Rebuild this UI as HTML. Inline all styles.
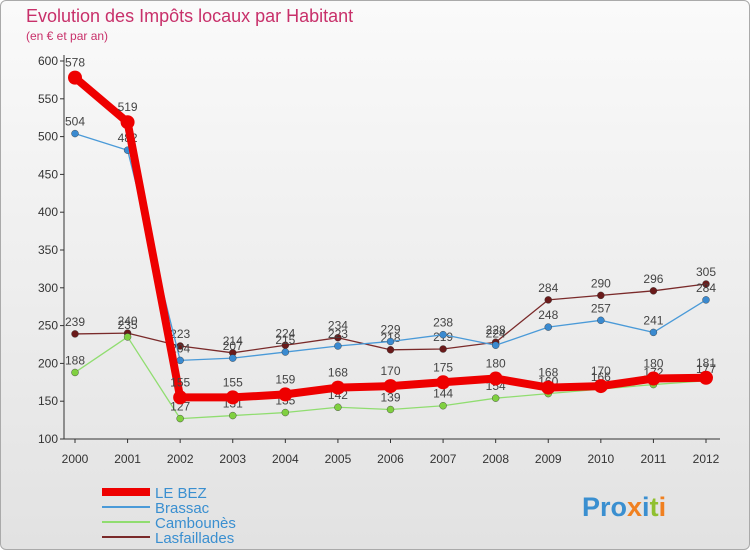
<!DOCTYPE html>
<html><head><meta charset="utf-8"><style>
body{margin:0;width:750px;height:550px;overflow:hidden;font-family:"Liberation Sans","DejaVu Sans",sans-serif}
#c{position:absolute;left:0;top:0;width:748px;height:548px;border:1px solid #aaa;border-radius:6px;background:linear-gradient(#fafafa,#e2e2e2)}
</style></head><body>
<div id="c"></div>
<svg id="s" width="750" height="550" style="position:absolute;left:0;top:0">
<text x="26" y="22" font-size="18" fill="#c8306a">Evolution des Impôts locaux par Habitant</text>
<text x="26" y="40" font-size="12" fill="#c8306a">(en € et par an)</text>
<g id="axes"></g><g id="series"></g><g id="legend"></g>
<text x="582" y="516" font-size="27" font-weight="bold"><tspan fill="#3a8fd0">Pro</tspan><tspan fill="#f08020">x</tspan><tspan fill="#3a8fd0">i</tspan><tspan fill="#90c030">t</tspan><tspan fill="#f08020">i</tspan></text>
</svg>
<script>
const years=[2000,2001,2002,2003,2004,2005,2006,2007,2008,2009,2010,2011,2012];
const leBez=[578,519,155,155,159,168,170,175,180,168,170,180,181];
const brassac=[504,482,204,207,215,223,229,238,224,248,257,241,284];
const cambounes=[188,235,127,131,135,142,139,144,154,160,166,172,177];
const lasfaillades=[239,240,223,214,224,234,218,219,228,284,290,296,305];
const yTicks=[100,150,200,250,300,350,400,450,500,550,600];
const NS="http://www.w3.org/2000/svg";
const X=i=>75+i*(706-75)/12, Y=v=>439-(v-100)*(439-61)/500;
function mk(t,a,p){const e=document.createElementNS(NS,t);for(const k in a)e.setAttribute(k,a[k]);p.appendChild(e);return e;}
const ax=document.getElementById('axes');
let l=mk('line',{x1:64,y1:55,x2:64,y2:439,stroke:'#333'},ax);


l=mk('line',{x1:64,y1:439,x2:720,y2:439,stroke:'#333'},ax);


yTicks.forEach(v=>{const t=mk('text',{x:58,y:Y(v)+4,'font-size':12,'text-anchor':'end',fill:'#333'},ax);t.textContent=v;


mk('line',{x1:60,y1:Y(v),x2:64,y2:Y(v),stroke:'#333'},ax);});
years.forEach((y,i)=>{const t=mk('text',{x:X(i),y:463,'font-size':12,'text-anchor':'middle',fill:'#333'},ax);t.textContent=y;


mk('line',{x1:X(i),y1:439,x2:X(i),y2:443,stroke:'#333'},ax);});
const series=[
{name:'lasfaillades',d:lasfaillades,c:'#7a2a2a',w:1.3,r:3.5,f:'#6a1a1a'},
{name:'cambounes',d:cambounes,c:'#90dd70',w:1.3,r:3.5,f:'#80d040'},
{name:'brassac',d:brassac,c:'#4a9ad8',w:1.3,r:3.5,f:'#3a8ad0'},
{name:'le-bez',d:leBez,c:'#ee0000',w:8,r:7,f:'#ee0000'}];
const sg=document.getElementById('series');
series.forEach(s=>{
const g=mk('g',{},sg);


mk('polyline',{points:s.d.map((v,i)=>X(i)+','+Y(v)).join(' '),fill:'none',stroke:s.c,'stroke-width':s.w,'stroke-linejoin':'round'},g);
s.d.forEach((v,i)=>{const p=mk('circle',{cx:X(i),cy:Y(v),r:s.r,fill:s.f,stroke:s.r<5?'#333':'none','stroke-width':0.4},g);


const t=mk('text',{x:X(i),y:Y(v)-(s.r<5?8:11),'font-size':12,'text-anchor':'middle',fill:'#444'},g);t.textContent=v;});
});
const lg=document.getElementById('legend');
[['LE BEZ','#ee0000',8],['Brassac','#4a9ad8',2],['Cambounès','#90dd70',2],['Lasfaillades','#7a2a2a',2]].forEach((e,i)=>{
const y=492+i*15;const g=mk('g',{},lg);


mk('line',{x1:102,y1:y,x2:150,y2:y,stroke:e[1],'stroke-width':e[2]},g);
const t=mk('text',{x:155,y:y+6,'font-size':15,fill:'#3a8fd0'},g);t.textContent=e[0];});
</script>
</body></html>
